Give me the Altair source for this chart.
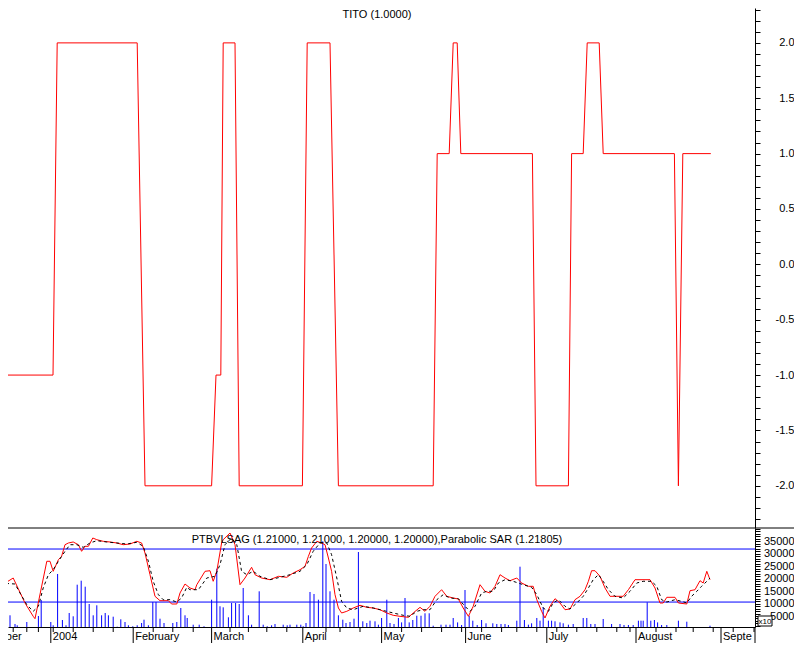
import altair as alt
import pandas as pd

# ---------------- data (x = trading-day position) ----------------
# Top panel: TITO (1.0000) — line vertices
tito_day = [0, 13.25, 14.3, 34.3, 36.25, 52.9, 54, 55.2, 55.8, 58.75,
            59.8, 75.6, 76.8, 82.5, 84.6, 108.3, 109.3, 112.3, 113.3, 114.3,
            115.2, 133.1, 134, 142.1, 142.9, 145.8, 146.8, 149.8, 150.8, 168.6,
            169.6, 170.7, 177.7]
tito_val = [-1, -1, 2, 2, -2, -2, -1, -1, 2, 2,
            -2, -2, 2, 2, -2, -2, 1, 1, 2, 2,
            1, 1, -2, -2, 1, 1, 2, 2, 1, 1,
            -2, 1, 1]

# Bottom panel: PTBVLSAG (red)
sag_day = [0, 3.3, 6.25, 8.3, 8.75, 11.7, 12.5, 13.3, 14.6, 15.4,
           16.25, 17.1, 18.3, 19.6, 20.4, 21.25, 22.1, 23.2, 24.2, 25.8,
           27.5, 29.2, 30.8, 32.5, 34.2, 35.4, 36.25, 37.5, 38.75, 40,
           42.1, 42.9, 44.2, 45, 46.25, 47.5, 48.75, 49.2, 51.25, 52.5,
           53.3, 54.2, 55.4, 55.8, 57.5, 58.75, 60, 61.25, 62.9, 63.75,
           65.4, 67.5, 69.6, 71.7, 73.3, 75, 76.25, 77.1, 77.9, 79.2,
           80.4, 81.25, 82.1, 82.9, 83.75, 84.6, 85.4, 86.7, 88.3, 90,
           91.7, 93.3, 95, 96.7, 98.3, 100, 102.1, 103.3, 105, 106.25,
           107.5, 108.75, 110.4, 111.7, 113.3, 114.6, 115.8, 117.1, 118.3, 120,
           121.25, 122.5, 123.75, 125, 126.25, 127.5, 129.2, 130.4, 132.1, 133.3,
           134.2, 135.4, 136.25, 137.5, 138.75, 140, 141.25, 142.5, 143.75, 145,
           146.25, 147.1, 147.9, 148.75, 150, 151.25, 152.5, 153.75, 155.8, 157.1,
           158.75, 162.5, 163.75, 165, 165.8, 166.7, 168.75, 169.6, 171.7, 172.5,
           173.75, 175, 175.8, 176.7, 177.5]
sag_val = [16930, 20260, 10220, 4880, 3920, 26970, 26970, 22950, 27610, 28980,
           33630, 34320, 34720, 33630, 30980, 32990, 32990, 36330, 35640, 35000,
           34720, 34320, 33630, 33920, 35000, 34320, 30300, 21590, 12910, 11150,
           11150, 9820, 9820, 14240, 17850, 16250, 15560, 17570, 22950, 23190,
           18940, 22950, 34320, 35640, 38330, 33630, 17570, 20260, 24560, 21590,
           20260, 19580, 20940, 20540, 22270, 23590, 24960, 28980, 32310, 35000,
           34320, 33630, 28290, 22950, 13560, 8210, 6210, 6890, 8210, 9300,
           8490, 8210, 7530, 6210, 5280, 4880, 4480, 6210, 8490, 6890,
           8900, 12910, 15560, 12910, 12230, 11830, 8210, 4880, 8900, 17570,
           14920, 14240, 16930, 21590, 20260, 19180, 20260, 18250, 16930, 16930,
           11550, 6890, 4200, 8900, 11950, 10220, 7530, 7810, 11550, 12910,
           15560, 18940, 23190, 23190, 20940, 16250, 12910, 12910, 12910, 15560,
           19580, 19580, 16250, 10220, 10220, 12510, 12510, 10220, 9820, 15160,
           15560, 19180, 18250, 22950, 19580]

# Bottom panel: dashed black signal line
sig_day = [0, 3.75, 5, 6.7, 8.3, 9.6, 10.8, 12.1, 13.3, 14.6,
           16.25, 17.5, 19.2, 20.8, 22.5, 24.2, 26.7, 29.2, 31.7, 34.2,
           35.8, 37.1, 38.3, 39.6, 40.8, 42.5, 44.2, 45.4, 46.7, 47.5,
           49.6, 51.7, 53.75, 55, 56.25, 57.9, 59.2, 60.4, 61.7, 63.3,
           65, 67.5, 70, 72.5, 75, 76.7, 78.3, 80, 81.7, 82.9,
           84.2, 85.4, 86.7, 88.3, 90.8, 93.3, 95, 98.3, 100.8, 102.5,
           104.2, 105.8, 107.5, 109.2, 110.8, 112.5, 114.6, 116.25, 117.5, 118.75,
           120.4, 121.7, 123.3, 124.6, 126.25, 128.3, 130.8, 132.9, 134.2, 135.8,
           137.1, 138.3, 139.6, 141.25, 142.5, 144.2, 145.8, 147.1, 148.3, 149.6,
           150.8, 152.1, 153.75, 155.8, 157.5, 159.2, 160.8, 162.9, 164.2, 165.4,
           166.7, 168.75, 170.4, 171.7, 172.9, 174.2, 175.4, 176.7, 177.5]
sig_val = [18250, 17850, 14240, 9540, 6890, 8900, 16250, 21590, 23590, 26970,
           30980, 33630, 33630, 32590, 34320, 35240, 34720, 34320, 33920, 34600,
           32990, 26970, 18940, 13560, 11550, 11550, 10620, 12230, 16530, 15560,
           15560, 20260, 20940, 25600, 33630, 36330, 33630, 22950, 21590, 22950,
           20940, 19580, 20540, 21590, 22950, 25600, 30980, 34320, 34320, 29620,
           20260, 10900, 8210, 7530, 8900, 8210, 7530, 6210, 5280, 4880,
           6890, 7530, 7530, 11550, 13560, 12230, 11950, 8900, 6890, 8900,
           14240, 14920, 14920, 18250, 19580, 18940, 17570, 16530, 13560, 8210,
           6890, 10220, 11550, 8900, 7810, 10220, 12910, 16250, 19580, 21590,
           18940, 15560, 12910, 12230, 14920, 18250, 18940, 18940, 16930, 11550,
           10620, 11550, 10900, 10220, 12910, 14920, 16930, 18940, 20260]

# Bottom panel: volume bars (blue)
vol_day = [1.7, 2.5, 3.75, 4.3, 6.7, 9.6, 10.3, 12.7, 13.3, 14.4,
           15.6, 16.5, 17.3, 18.3, 19.3, 20.3, 21.3, 22.3, 23.3, 24.2,
           25.4, 26.3, 27.1, 28.3, 29.3, 30.2, 31.25, 32.1, 33.2, 34.3,
           35.4, 36, 37.1, 38.2, 39, 40, 41, 43.2, 44.2, 45.2,
           46.25, 46.8, 48.3, 49.8, 51, 52.9, 54.2, 55, 55.8, 57.1,
           57.9, 58.9, 59.8, 60.8, 62.1, 62.9, 64.8, 65.8, 66.8, 67.9,
           68.75, 70.8, 71.8, 72.5, 74.2, 75.2, 75.8, 76.5, 77.5, 78.5,
           79.6, 80.7, 81.5, 82.5, 83.5, 84.6, 85.7, 86.5, 87.5, 88.5,
           89.6, 90.7, 91.7, 92.5, 93.75, 94.6, 95.4, 96.7, 97.5, 98.5,
           99.6, 100.4, 101.25, 102.3, 103.2, 104.2, 105.25, 106.25, 107.3, 108.3,
           110.25, 111.5, 112.5, 113.3, 114.4, 115.4, 116.25, 117.3, 118.2, 119.3,
           120.4, 121.5, 123.2, 124.2, 125.25, 126.25, 127.1, 129.2, 130, 131.1,
           132.1, 132.9, 134.2, 135, 135.8, 137.1, 137.9, 138.75, 140, 140.8,
           142.1, 143.3, 145.8, 146.7, 147.7, 148.75, 150.8, 152.9, 155, 156,
           157.1, 158.3, 159.6, 160.25, 160.8, 161.8, 162.7, 163.6, 164.4, 165.4,
           166.7, 169.6, 171.7, 177.5]
vol_val = [700, 5280, 1790, 1270, 2590, 5000, 11430, 2590, 1270, 21870,
           3390, 1270, 6210, 4880, 17570, 19180, 16770, 9820, 5280, 9300,
           5280, 6210, 5280, 4720, 700, 3680, 2590, 1270, 880, 1270,
           2190, 3520, 1270, 10620, 10620, 3920, 2190, 2190, 2590, 8210,
           5280, 4200, 1510, 1510, 880, 11550, 24000, 8900, 8490, 4480,
           10220, 10220, 9820, 16250, 5280, 1510, 14920, 1510, 880, 1270,
           1790, 1510, 1270, 1510, 1510, 1510, 880, 2190, 14640, 13840,
           11550, 35000, 25880, 14920, 11550, 5280, 3520, 2190, 2590, 3920,
           30700, 2870, 2190, 3120, 2870, 1510, 4200, 11550, 2190, 1790,
           4200, 2430, 12230, 2430, 3390, 5120, 5120, 6090, 6090, 1110,
           1510, 1510, 1510, 4200, 2430, 1390, 15440, 5120, 3120, 1390,
           3390, 2070, 2070, 1790, 1790, 1790, 1390, 3120, 24800, 3390,
           1510, 2070, 4200, 3120, 8490, 3120, 3120, 2870, 2430, 2070,
           1510, 1790, 4200, 4200, 1790, 1790, 3800, 1790, 1790, 1390,
           1390, 1390, 3120, 3120, 3120, 10500, 3120, 3390, 2430, 1390,
           1390, 3120, 2710, 1110]

# Horizontal reference levels (blue)
level_val = [31900, 10600]

# Time axis: weekly ticks, month starts and labels
week_day = [3.3, 6.7, 9.6, 13.3, 18.3, 23.3, 28.3, 38.3, 43.2, 48.3,
            57.5, 62.1, 66.7, 71.7, 81.5, 85, 90, 100.4, 105.4, 110.4,
            115.4, 120.4, 125.4, 129.2, 134.2, 139.2, 144.2, 149.2, 154.2, 157.5,
            164, 169, 173.3, 178.3, 183.3, 188.5]
month_day = [-7.75, 12.7, 33.3, 52.9, 75.7, 95.4, 116.4, 136.7, 159, 180.25]
month_name = ["December", "2004", "February", "March", "April", "May",
              "June", "July", "August", "September"]

top_title = "TITO (1.0000)"
bottom_title = "PTBVLSAG (1.21000, 1.21000, 1.20000, 1.20000),Parabolic SAR (1.21805)"

# ---------------- layout ----------------
W, H = 747, 619        # plot area (both panels)
TOP_H = 520            # boundary between the panels
RIGHT = 39             # room for the right-hand axis labels
BOTTOM = 16            # room for the month labels
FONT = "Liberation Sans"
RED, BLUE = "#FF0000", "#0000FF"

xscale = alt.Scale(domain=[2, 188.75], nice=False, zero=False)
xaxis = alt.Axis(labels=False, ticks=False, title=None, grid=False,
                 domainColor="black")


def X():
    return alt.X("d:Q", scale=xscale, axis=xaxis)


top_ticks = [round(-2.3 + 0.1 * i, 1) for i in range(47)]
bot_ticks = [1000 * i for i in range(1, 41)]

top_axis = alt.Axis(orient="right", values=top_ticks, title=None, grid=False,
                    tickSize=5, labelAlign="right", labelPadding=RIGHT - 5,
                    labelOverlap=False, labelFlush=False,
                    labelExpr="abs(datum.value*2 - round(datum.value*2)) < 0.001 ? "
                              "replace(format(datum.value, '.1f'), '\u2212', '-') : ''")
bot_axis = alt.Axis(orient="right", values=bot_ticks, title=None, grid=False,
                    tickSize=5, labelAlign="right", labelPadding=RIGHT - 5,
                    labelOverlap=False, labelFlush=False,
                    labelExpr="(datum.value % 5000 == 0 && datum.value <= 35000) ? "
                              "format(datum.value, 'd') : ''")


def YT():
    return alt.Y("v:Q", scale=alt.Scale(domain=[-2.381, 2.315], range=[TOP_H, 0],
                                        nice=False, zero=False), axis=top_axis)


def YB():
    return alt.Y("v:Q", scale=alt.Scale(domain=[585, 40340], range=[H, TOP_H],
                                        nice=False, zero=False), axis=bot_axis)


# ---- top panel
tito_df = pd.DataFrame({"d": tito_day, "v": tito_val})
top_line = alt.Chart(tito_df).mark_line(color=RED, strokeWidth=1, clip=True).encode(x=X(), y=YT())
top_text = alt.Chart(pd.DataFrame({"t": [top_title]})).mark_text(
    font=FONT, fontSize=11, color="black", align="center", baseline="alphabetic"
).encode(x=alt.value(369), y=alt.value(10), text="t:N")
top = alt.layer(top_line, top_text)

# ---- bottom panel
levels = alt.Chart(pd.DataFrame({"v": level_val})).mark_rule(color=BLUE, strokeWidth=1).encode(y=YB())
bars = alt.Chart(pd.DataFrame({"d": vol_day, "v": vol_val})).mark_rule(
    color=BLUE, strokeWidth=1, clip=True).encode(x=X(), y=YB(), y2=alt.value(H))
sag = alt.Chart(pd.DataFrame({"d": sag_day, "v": sag_val})).mark_line(
    color=RED, strokeWidth=1, clip=True).encode(x=X(), y=YB())
sig = alt.Chart(pd.DataFrame({"d": sig_day, "v": sig_val})).mark_line(
    color="black", strokeWidth=1, strokeDash=[3, 3], clip=True).encode(x=X(), y=YB())
bot_text = alt.Chart(pd.DataFrame({"t": [bottom_title]})).mark_text(
    font=FONT, fontSize=11, color="black", align="center", baseline="alphabetic"
).encode(x=alt.value(369), y=alt.value(TOP_H + 15), text="t:N")

separator = alt.Chart(pd.DataFrame({"k": [0]})).mark_rule(color="black", strokeWidth=1).encode(
    x=alt.value(-5), x2=alt.value(W + RIGHT + 5), y=alt.value(TOP_H))
axis_ext = alt.Chart(pd.DataFrame({"k": [0]})).mark_rule(color="black", strokeWidth=1).encode(
    x=alt.value(W), y=alt.value(H), y2=alt.value(H + BOTTOM))

week_ticks = alt.Chart(pd.DataFrame({"d": week_day})).mark_rule(color="black", strokeWidth=1).encode(
    x=X(), y=alt.value(H), y2=alt.value(H + 5))
month_df = pd.DataFrame({"d": month_day, "m": month_name})
month_ticks = alt.Chart(month_df).mark_rule(color="black", strokeWidth=1).encode(
    x=X(), y=alt.value(H), y2=alt.value(H + BOTTOM))
month_labels = alt.Chart(month_df.iloc[:-1]).mark_text(
    font=FONT, fontSize=11, color="black", align="left", baseline="alphabetic", dx=2
).encode(x=X(), y=alt.value(H + 13), text="m:N")
last_label = alt.Chart(month_df.iloc[-1:]).mark_text(
    font=FONT, fontSize=11, color="black", align="left", baseline="alphabetic", dx=2,
    limit=34, ellipsis="\u200b"
).encode(x=X(), y=alt.value(H + 13), text="m:N")

x10_box = alt.Chart(pd.DataFrame({"t": ["x10"]})).mark_rect(
    fill="white", stroke="black", strokeWidth=1).encode(
    x=alt.value(W + 3), x2=alt.value(W + 17), y=alt.value(H - 11), y2=alt.value(H - 1))
x10_text = alt.Chart(pd.DataFrame({"t": ["x10"]})).mark_text(
    font=FONT, fontSize=8, color="black", align="center", baseline="alphabetic").encode(
    x=alt.value(W + 10), y=alt.value(H - 3), text="t:N")

bottom = alt.layer(levels, bars, sag, sig, bot_text, separator, axis_ext,
                   week_ticks, month_ticks, month_labels, last_label, x10_box, x10_text)

chart = alt.layer(top, bottom).resolve_scale(y="independent").properties(
    width=W, height=H,
    autosize=alt.AutoSizeParams(type="none"),
    padding={"left": 0, "top": 0, "right": RIGHT, "bottom": BOTTOM},
    background="white",
).configure_view(stroke=None).configure_axis(
    labelFont=FONT, labelFontSize=11, labelColor="black",
    tickColor="black", domainColor="black", tickWidth=1, domainWidth=1,
)

chart.save("out.html", embed_options={"renderer": "svg", "actions": False})
